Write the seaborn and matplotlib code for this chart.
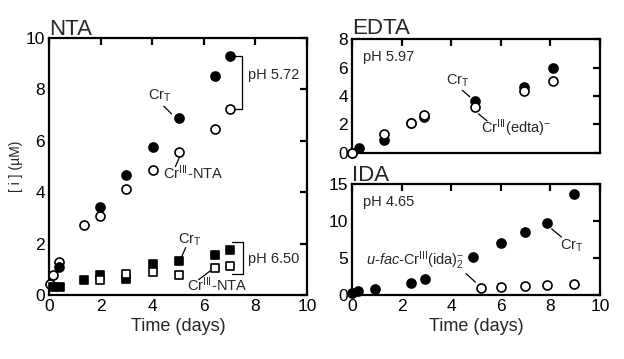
import matplotlib
matplotlib.use("Agg")
import matplotlib.pyplot as plt
import seaborn as sns
import pandas as pd

sns.set_theme(style="white")
plt.rcParams['font.family'] = ['Liberation Sans', 'DejaVu Sans']
plt.rcParams['mathtext.fontset'] = 'custom'
plt.rcParams['mathtext.rm'] = 'Liberation Sans'
plt.rcParams['mathtext.it'] = 'Liberation Sans:italic'
plt.rcParams['mathtext.bf'] = 'Liberation Sans:bold'

# ---------------- data ----------------
# NTA, pH 5.72
nta572_crT_t = [0.40, 1.98, 2.98, 4.03, 5.04, 6.43, 7.00]
nta572_crT_v = [1.10, 3.41, 4.67, 5.76, 6.89, 8.52, 9.30]
nta572_cr3_t = [0.04, 0.14, 0.40, 1.37, 1.98, 2.98, 4.03, 5.05, 6.43, 7.00]
nta572_cr3_v = [0.45, 0.78, 1.28, 2.74, 3.09, 4.11, 4.88, 5.56, 6.48, 7.25]
# NTA, pH 6.50
nta650_crT_t = [0.17, 0.43, 1.37, 1.98, 2.98, 4.03, 5.05, 6.43, 7.00]
nta650_crT_v = [0.30, 0.30, 0.58, 0.78, 0.61, 1.21, 1.33, 1.56, 1.75]
nta650_cr3_t = [1.98, 2.98, 4.03, 5.05, 6.43, 7.00]
nta650_cr3_v = [0.58, 0.84, 0.91, 0.77, 1.04, 1.13]
# EDTA, pH 5.97
edta_crT_t = [0.00, 0.29, 1.29, 2.37, 2.92, 4.95, 6.94, 8.12]
edta_crT_v = [0.00, 0.37, 0.91, 2.08, 2.50, 3.65, 4.61, 5.99]
edta_cr3_t = [0.00, 1.29, 2.37, 2.92, 4.95, 6.94, 8.12]
edta_cr3_v = [0.00, 1.33, 2.08, 2.66, 3.20, 4.37, 5.05]
# IDA, pH 4.65
ida_crT_t = [0.00, 0.25, 0.93, 2.37, 2.95, 4.89, 6.00, 6.99, 7.88, 8.95]
ida_crT_v = [0.30, 0.59, 0.86, 1.58, 2.16, 5.09, 6.98, 8.56, 9.77, 13.65]
ida_cr3_t = [5.22, 6.00, 6.99, 7.87, 8.95]
ida_cr3_v = [1.00, 1.13, 1.20, 1.30, 1.50]

x_ticks = [0, 2, 4, 6, 8, 10]

# ---------------- figure ----------------
fig = plt.figure(figsize=(6.24, 3.59), dpi=100)
ax_nta = fig.add_axes([0.0785, 0.178, 0.4135, 0.716])
ax_edta = fig.add_axes([0.564, 0.574, 0.3975, 0.317])
ax_ida = fig.add_axes([0.564, 0.178, 0.3975, 0.309])

FS_TICK = 12.5
FS_ANN = 10.5
S_CIRC = 42
S_SQ = 30


def style(ax, ylim, yticks, title, xlabel):
    ax.set_xlim(0, 10)
    ax.set_ylim(*ylim)
    ax.set_xticks(x_ticks)
    ax.set_yticks(yticks)
    for s in ax.spines.values():
        s.set_linewidth(1.6)
        s.set_color('black')
        s.set_visible(True)
    ax.tick_params(direction='in', length=5, width=1.6, top=True, right=True,
                   labelsize=FS_TICK, pad=3, colors='black')
    ax.set_title(title, loc='left', fontsize=16, pad=2, x=0.0)
    if xlabel:
        ax.set_xlabel('Time (days)', fontsize=13, labelpad=3)
    else:
        ax.set_xlabel('')
        ax.set_xticklabels([])
    ax.set_ylabel('')


def pts(ax, t, v, marker, filled, size):
    df = pd.DataFrame({'t': t, 'v': v})
    sns.scatterplot(data=df, x='t', y='v', ax=ax, marker=marker, s=size,
                    color='black' if filled else 'white', edgecolor='black',
                    linewidth=1.2, clip_on=False, zorder=5, legend=False)


def lead(ax, x0, y0, x1, y1):
    ax.plot([x0, x1], [y0, y1], color='black', lw=0.9, zorder=4, clip_on=False)


# NTA
pts(ax_nta, nta572_cr3_t, nta572_cr3_v, 'o', False, S_CIRC)
pts(ax_nta, nta572_crT_t, nta572_crT_v, 'o', True, S_CIRC)
pts(ax_nta, nta650_crT_t, nta650_crT_v, 's', True, S_SQ)
pts(ax_nta, nta650_cr3_t, nta650_cr3_v, 's', False, S_SQ)
style(ax_nta, (0, 10), [0, 2, 4, 6, 8, 10], 'NTA', True)
ax_nta.set_ylabel('[ i ] (\u00b5M)', fontsize=10, labelpad=2)

ax_nta.text(4.3, 7.75, r'Cr$_{\rm T}$', fontsize=FS_ANN, ha='center', va='center')
lead(ax_nta, 4.45, 7.35, 4.75, 7.05)
ax_nta.text(5.6, 4.75, r'Cr$^{\rm III}$-NTA', fontsize=FS_ANN, ha='center', va='center')
lead(ax_nta, 4.9, 5.0, 5.05, 5.35)
# pH 5.72 bracket
ax_nta.plot([7.1, 7.48, 7.48, 7.1], [9.3, 9.3, 7.25, 7.25], color='black', lw=0.9, clip_on=False)
ax_nta.text(7.7, 8.55, 'pH 5.72', fontsize=FS_ANN, ha='left', va='center')

ax_nta.text(5.47, 2.14, r'Cr$_{\rm T}$', fontsize=FS_ANN, ha='center', va='center')
lead(ax_nta, 5.3, 1.85, 5.12, 1.45)
ax_nta.text(6.5, 0.42, r'Cr$^{\rm III}$-NTA', fontsize=FS_ANN, ha='center', va='center')
lead(ax_nta, 5.8, 0.6, 6.3, 0.98)
# pH 6.50 bracket
ax_nta.plot([7.1, 7.52, 7.52, 7.1], [2.07, 2.07, 0.82, 0.82], color='black', lw=0.9, clip_on=False)
ax_nta.text(7.7, 1.4, 'pH 6.50', fontsize=FS_ANN, ha='left', va='center')

# EDTA
pts(ax_edta, edta_crT_t, edta_crT_v, 'o', True, S_CIRC)
pts(ax_edta, edta_cr3_t, edta_cr3_v, 'o', False, S_CIRC)
style(ax_edta, (0, 8), [0, 2, 4, 6, 8], 'EDTA', False)
ax_edta.text(0.45, 6.75, 'pH 5.97', fontsize=FS_ANN, ha='left', va='center')
ax_edta.text(4.27, 5.05, r'Cr$_{\rm T}$', fontsize=FS_ANN, ha='center', va='center')
lead(ax_edta, 4.45, 4.4, 4.75, 3.95)
ax_edta.text(6.6, 1.75, r'Cr$^{\rm III}$(edta)$^{-}$', fontsize=FS_ANN, ha='center', va='center')
lead(ax_edta, 5.1, 2.75, 5.45, 2.25)

# IDA
pts(ax_ida, ida_crT_t, ida_crT_v, 'o', True, S_CIRC)
pts(ax_ida, ida_cr3_t, ida_cr3_v, 'o', False, S_CIRC)
style(ax_ida, (0, 15), [0, 5, 10, 15], 'IDA', True)
ax_ida.text(0.45, 12.6, 'pH 4.65', fontsize=FS_ANN, ha='left', va='center')
ax_ida.text(8.85, 6.6, r'Cr$_{\rm T}$', fontsize=FS_ANN, ha='center', va='center')
lead(ax_ida, 8.05, 8.95, 8.45, 7.85)
ax_ida.text(2.55, 4.6, r'$\it{u}$-$\it{fac}$-Cr$^{\rm III}$(ida)$_2^{-}$', fontsize=FS_ANN,
            ha='center', va='center')
lead(ax_ida, 4.6, 2.9, 4.98, 1.75)

fig.savefig('out.png', dpi=100)
